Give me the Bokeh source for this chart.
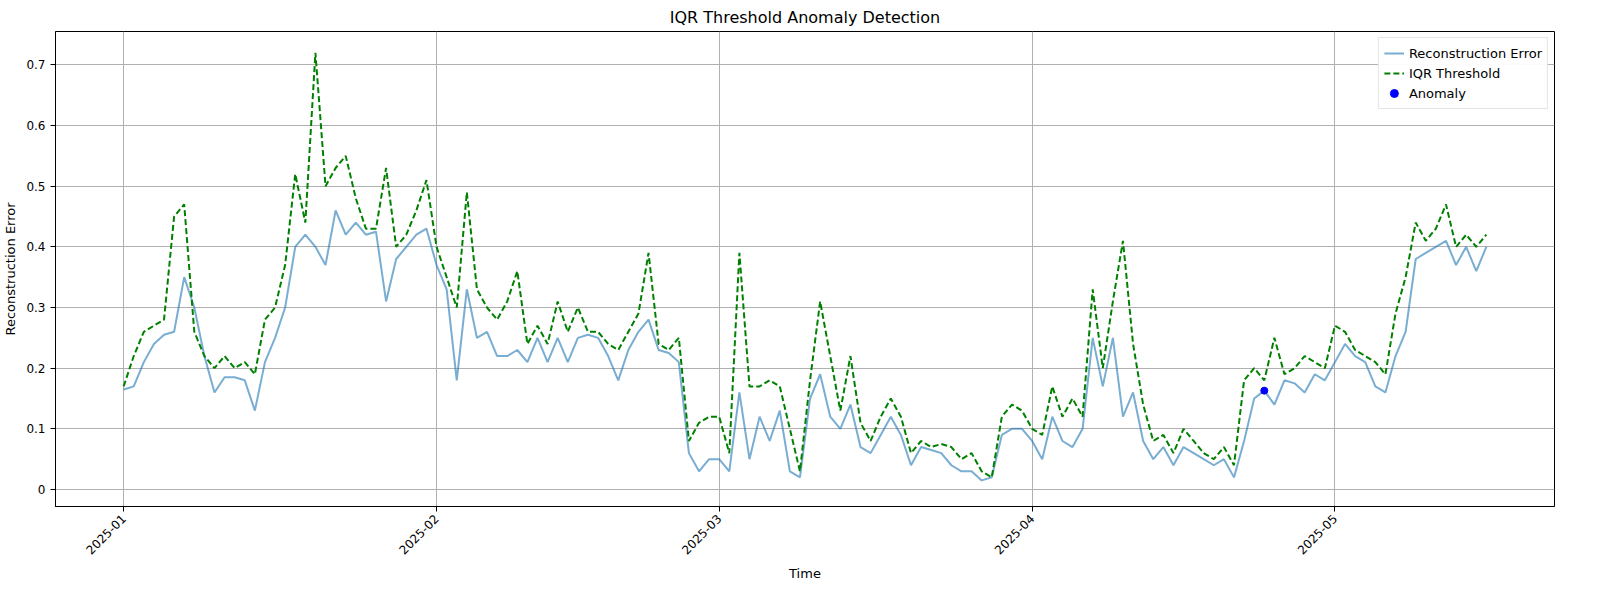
import math
import pandas as pd
from bokeh.plotting import figure
from bokeh.models import FixedTicker, DatetimeTickFormatter, Range1d, Legend, LegendItem
from bokeh.embed import file_html
from bokeh.resources import INLINE

start_date = "2025-01-01"

recon_error = [
    0.165,0.17,0.21,0.24,0.255,0.26,0.35,0.30,0.22,0.16,0.185,0.185,0.18,0.13,0.21,0.25,0.30,0.40,0.42,0.40,0.37,0.46,0.42,0.44,0.42,0.425,0.31,0.38,0.40,0.42,0.43,
    0.37,0.33,0.18,0.33,0.25,0.26,0.22,0.22,0.23,0.21,0.25,0.21,0.25,0.21,0.25,0.255,0.25,0.22,0.18,0.23,0.26,0.28,0.23,0.225,0.21,0.06,0.03,0.05,
    0.05,0.03,0.16,0.05,0.12,0.08,0.13,0.03,0.02,0.15,0.19,0.12,0.10,0.14,0.07,0.06,0.09,0.12,0.09,0.04,0.07,0.065,0.06,0.04,0.03,0.03,0.015,0.02,0.09,0.10,0.10,
    0.08,0.05,0.12,0.08,0.07,0.10,0.25,0.17,0.25,0.12,0.16,0.08,0.05,0.07,0.04,0.07,0.06,0.05,0.04,0.05,0.02,0.08,0.15,0.163,0.14,0.18,0.175,0.16,0.19,0.18,
    0.21,0.24,0.22,0.21,0.17,0.16,0.22,0.26,0.38,0.39,0.40,0.41,0.37,0.40,0.36,0.40,
]
iqr_threshold = [
    0.17,0.22,0.26,0.27,0.28,0.45,0.47,0.26,0.22,0.20,0.22,0.20,0.21,0.19,0.28,0.30,0.37,0.52,0.44,0.72,0.50,0.53,0.55,0.48,0.43,0.43,0.53,0.40,0.42,0.46,0.51,
    0.40,0.35,0.30,0.49,0.33,0.30,0.28,0.31,0.36,0.24,0.27,0.24,0.31,0.26,0.30,0.26,0.26,0.24,0.23,0.26,0.29,0.39,0.24,0.23,0.25,0.08,0.11,0.12,
    0.12,0.06,0.39,0.17,0.17,0.18,0.17,0.10,0.03,0.18,0.31,0.22,0.13,0.22,0.11,0.08,0.12,0.15,0.12,0.06,0.08,0.07,0.075,0.07,0.05,0.06,0.03,0.02,0.12,0.14,0.13,
    0.10,0.09,0.17,0.12,0.15,0.12,0.33,0.20,0.31,0.41,0.24,0.14,0.08,0.09,0.06,0.10,0.08,0.06,0.05,0.07,0.04,0.18,0.20,0.18,0.25,0.19,0.20,0.22,0.21,0.20,
    0.27,0.26,0.23,0.22,0.21,0.19,0.29,0.35,0.44,0.41,0.43,0.47,0.40,0.42,0.40,0.42,
]
anomaly_index = [113]
month_ticks = ["2025-01-01", "2025-02-01", "2025-03-01", "2025-04-01", "2025-05-01"]
y_ticks = [0.0, 0.1, 0.2, 0.3, 0.4, 0.5, 0.6, 0.7]

dates = pd.date_range(start_date, periods=len(recon_error), freq="D")
an_x = [dates[i] for i in anomaly_index]
an_y = [recon_error[i] for i in anomaly_index]

x0 = pd.Timestamp(dates[0]).value // 10**6
x1 = pd.Timestamp(dates[-1]).value // 10**6
pad = (x1 - x0) * 0.05

p = figure(width=1584, height=584, x_axis_type="datetime", output_backend="svg",
           toolbar_location=None, title="IQR Threshold Anomaly Detection",
           x_range=Range1d(x0 - pad, x1 + pad), y_range=Range1d(-0.028, 0.755),
           min_border_left=0, min_border_right=30)
p.title.align = "center"
p.title.text_font_size = "16px"
p.title.text_font_style = "normal"
p.title.text_font = "DejaVu Sans"
p.title.text_color = "black"

l1 = p.line(dates, recon_error, line_color="#1f77b4", line_alpha=0.6, line_width=2)
l2 = p.line(dates, iqr_threshold, line_color="green", line_dash="6 3", line_width=2)
s1 = p.scatter(an_x, an_y, size=7, color="blue")

legend = Legend(items=[LegendItem(label="Reconstruction Error", renderers=[l1]),
                       LegendItem(label="IQR Threshold", renderers=[l2]),
                       LegendItem(label="Anomaly", renderers=[s1])],
                location="top_right", label_text_font_size="13px",
                label_text_font="DejaVu Sans", label_text_color="black",
                border_line_color="#cccccc", margin=6,
                spacing=0, padding=5, glyph_height=20, label_height=20)
p.add_layout(legend)

p.xaxis.ticker = FixedTicker(ticks=[pd.Timestamp(t).value // 10**6 for t in month_ticks])
p.xaxis.formatter = DatetimeTickFormatter(months="%Y-%m", days="%Y-%m", hours="%Y-%m")
p.xaxis.major_label_orientation = math.pi / 4
p.yaxis.ticker = FixedTicker(ticks=y_ticks)
p.xaxis.axis_label = "Time"
p.yaxis.axis_label = "Reconstruction Error"
for ax in (p.xaxis, p.yaxis):
    ax.axis_label_text_font_style = "normal"
    ax.axis_label_text_font_size = "13px"
    ax.axis_label_text_font = "DejaVu Sans"
    ax.axis_label_text_color = "black"
    ax.major_label_text_font_size = "12px"
    ax.major_label_text_font = "DejaVu Sans"
    ax.major_label_text_color = "black"
    ax.minor_tick_line_color = None
    ax.major_tick_out = 5
    ax.major_tick_in = 0
    ax.axis_line_color = "black"
p.xgrid.grid_line_color = "#b0b0b0"
p.ygrid.grid_line_color = "#b0b0b0"
p.outline_line_color = "black"
p.outline_line_alpha = 1

open("out.html", "w").write(file_html(p, INLINE))
